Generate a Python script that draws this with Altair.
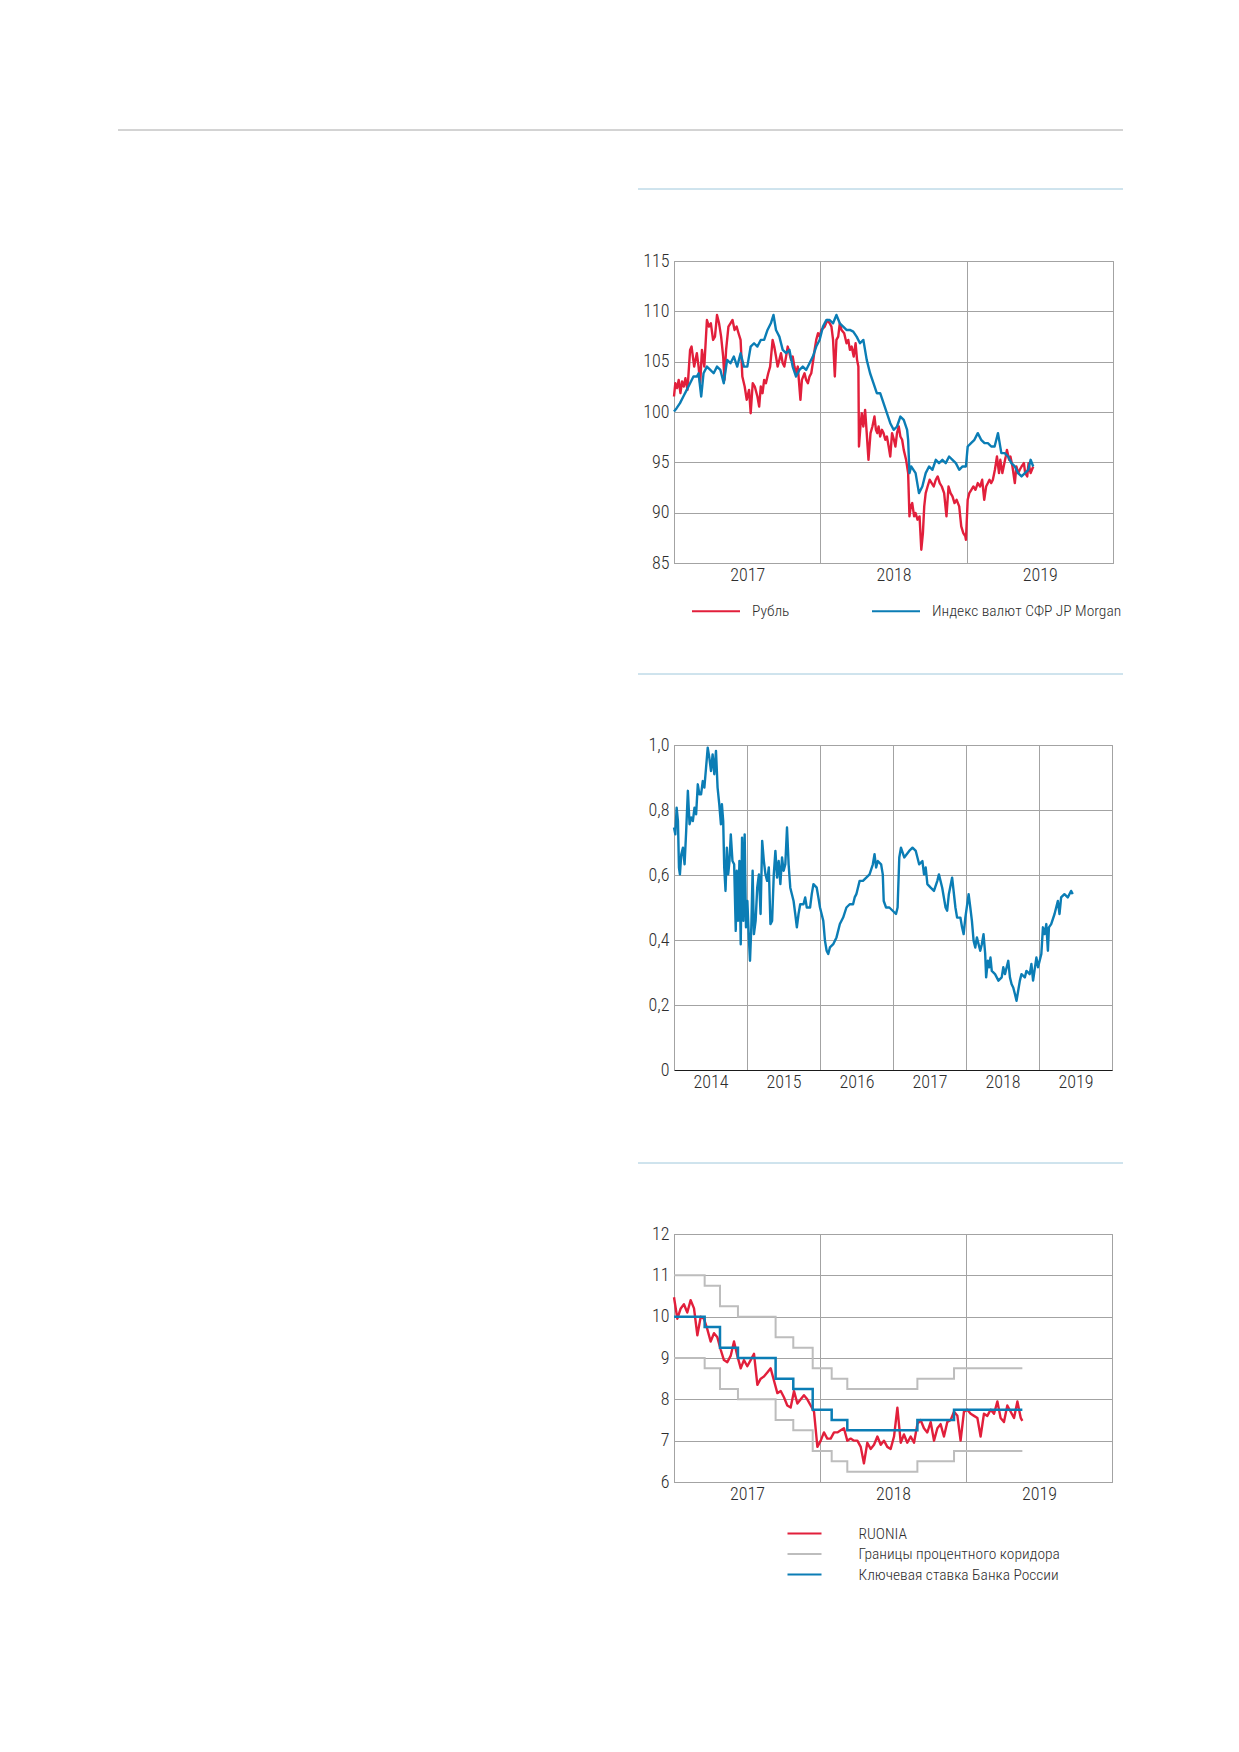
import altair as alt
import pandas as pd

FONT = "Roboto Condensed, Liberation Sans Narrow, Arial Narrow, DejaVu Sans Condensed, sans-serif"
FW = 300
TICK_FS = 18
LEG_FS = 15.5
RED = "#E21F3B"
BLUE = "#0B7DB5"
CORR = "#BDBDBD"
GRID = "#A3A3A3"
TXT = "#2E2E2E"

# ---------------- Panel 1: ruble vs JP Morgan EM currency index ----------------
P1_YEARS = [2017, 2018, 2019]
P1_YTICKS = [85, 90, 95, 100, 105, 110, 115]
P1_NAMES = ["Рубль", "Индекс валют СФР JP Morgan"]

rub_t = [2017.000, 2017.009, 2017.021, 2017.032, 2017.044, 2017.055, 2017.067, 2017.078, 2017.092, 2017.110,
         2017.120, 2017.138, 2017.156, 2017.168, 2017.179, 2017.191, 2017.207, 2017.225, 2017.239, 2017.252,
         2017.267, 2017.280, 2017.294, 2017.308, 2017.322, 2017.336, 2017.345, 2017.356, 2017.372, 2017.386,
         2017.400, 2017.414, 2017.428, 2017.441, 2017.455, 2017.467, 2017.483, 2017.497, 2017.513, 2017.524,
         2017.538, 2017.552, 2017.570, 2017.582, 2017.593, 2017.605, 2017.616, 2017.628, 2017.644, 2017.657,
         2017.674, 2017.685, 2017.697, 2017.708, 2017.720, 2017.731, 2017.743, 2017.754, 2017.766, 2017.777,
         2017.789, 2017.800, 2017.811, 2017.823, 2017.834, 2017.846, 2017.864, 2017.874, 2017.892, 2017.903,
         2017.915, 2017.926, 2017.938, 2017.952, 2017.961, 2017.972, 2017.984, 2017.995, 2018.007, 2018.030,
         2018.048, 2018.064, 2018.076, 2018.087, 2018.099, 2018.110, 2018.122, 2018.133, 2018.145, 2018.163,
         2018.179, 2018.191, 2018.202, 2018.214, 2018.228, 2018.241, 2018.251, 2018.260, 2018.264, 2018.274,
         2018.283, 2018.294, 2018.306, 2018.317, 2018.329, 2018.343, 2018.356, 2018.370, 2018.380, 2018.389,
         2018.398, 2018.409, 2018.421, 2018.432, 2018.444, 2018.455, 2018.467, 2018.478, 2018.490, 2018.503,
         2018.513, 2018.524, 2018.536, 2018.547, 2018.559, 2018.570, 2018.586, 2018.600, 2018.609, 2018.618,
         2018.628, 2018.641, 2018.651, 2018.664, 2018.678, 2018.690, 2018.701, 2018.710, 2018.720, 2018.733,
         2018.747, 2018.761, 2018.775, 2018.789, 2018.802, 2018.816, 2018.830, 2018.846, 2018.862, 2018.876,
         2018.890, 2018.903, 2018.917, 2018.931, 2018.949, 2018.963, 2018.977, 2018.991, 2018.995, 2019.007,
         2019.018, 2019.032, 2019.046, 2019.060, 2019.076, 2019.092, 2019.106, 2019.120, 2019.133, 2019.145,
         2019.156, 2019.168, 2019.179, 2019.193, 2019.207, 2019.221, 2019.230, 2019.244, 2019.253, 2019.267,
         2019.275, 2019.290, 2019.299, 2019.313, 2019.329, 2019.340, 2019.352, 2019.363, 2019.375, 2019.391,
         2019.400, 2019.414, 2019.423, 2019.437, 2019.446, 2019.455]
rub_v = [101.54, 102.86, 102.37, 103.19, 101.87, 103.03, 102.53, 103.36, 102.20, 106.17,
         106.50, 104.51, 105.84, 104.51, 102.86, 106.17, 104.51, 109.14, 108.48, 108.81,
         107.16, 107.49, 109.64, 108.81, 107.49, 105.51, 103.19, 106.17, 108.48, 108.81,
         109.14, 108.15, 108.48, 107.82, 107.16, 103.52, 102.53, 101.21, 102.20, 99.88,
         102.86, 102.53, 101.54, 100.54, 102.53, 101.87, 103.19, 102.86, 103.85, 104.51,
         107.16, 106.50, 105.51, 104.51, 105.18, 105.84, 104.84, 104.51, 105.51, 106.50,
         105.84, 105.18, 105.51, 104.51, 103.85, 104.51, 101.21, 103.19, 103.85, 103.19,
         102.86, 103.52, 103.85, 105.18, 106.17, 107.16, 107.82, 107.49, 108.15, 108.48,
         109.14, 108.81, 108.48, 107.16, 103.52, 107.16, 107.49, 108.81, 108.15, 107.82,
         106.83, 107.16, 106.17, 106.50, 105.51, 106.83, 105.18, 104.51, 96.57, 98.56,
         99.88, 98.56, 100.21, 97.90, 95.25, 97.90, 98.56, 99.55, 98.23, 97.90,
         98.56, 97.57, 98.23, 97.90, 97.24, 97.57, 96.57, 95.58, 97.90, 97.24,
         96.57, 97.90, 98.56, 97.57, 97.24, 96.24, 95.25, 93.93, 89.63, 90.62,
         90.95, 89.63, 89.96, 89.30, 89.63, 86.32, 87.97, 90.62, 91.94, 92.60,
         93.27, 92.94, 92.60, 93.27, 93.60, 92.94, 92.60, 91.94, 89.63, 92.60,
         91.94, 91.61, 90.95, 91.28, 90.62, 88.64, 87.97, 87.64, 87.31, 91.28,
         91.94, 92.27, 92.60, 92.27, 92.94, 92.60, 93.27, 91.28, 92.60, 92.94,
         93.27, 92.94, 93.27, 94.26, 95.58, 93.93, 95.25, 93.93, 94.59, 95.58,
         96.24, 95.25, 95.58, 94.59, 92.94, 94.59, 93.93, 94.26, 94.59, 94.92,
         93.93, 93.60, 94.92, 93.93, 94.26, 94.59]

jpm_t = [2017.000, 2017.018, 2017.041, 2017.064, 2017.087, 2017.110, 2017.133, 2017.156, 2017.168, 2017.186,
         2017.202, 2017.225, 2017.248, 2017.271, 2017.294, 2017.317, 2017.340, 2017.363, 2017.386, 2017.409,
         2017.432, 2017.455, 2017.478, 2017.501, 2017.524, 2017.547, 2017.570, 2017.593, 2017.616, 2017.639,
         2017.662, 2017.680, 2017.697, 2017.720, 2017.743, 2017.766, 2017.789, 2017.811, 2017.834, 2017.857,
         2017.880, 2017.903, 2017.926, 2017.949, 2017.972, 2017.995, 2018.018, 2018.041, 2018.064, 2018.087,
         2018.110, 2018.133, 2018.156, 2018.179, 2018.202, 2018.225, 2018.248, 2018.271, 2018.294, 2018.317,
         2018.340, 2018.363, 2018.386, 2018.409, 2018.432, 2018.455, 2018.478, 2018.501, 2018.524, 2018.547,
         2018.570, 2018.593, 2018.600, 2018.609, 2018.621, 2018.651, 2018.674, 2018.697, 2018.720, 2018.743,
         2018.766, 2018.789, 2018.811, 2018.834, 2018.857, 2018.880, 2018.903, 2018.926, 2018.949, 2018.972,
         2018.995, 2019.007, 2019.030, 2019.053, 2019.076, 2019.099, 2019.122, 2019.145, 2019.168, 2019.191,
         2019.214, 2019.237, 2019.260, 2019.283, 2019.306, 2019.329, 2019.352, 2019.375, 2019.398, 2019.421,
         2019.437, 2019.455]
jpm_v = [100.05, 100.38, 100.88, 101.54, 102.20, 102.86, 103.52, 103.52, 103.85, 101.54,
         103.85, 104.51, 104.18, 103.85, 104.51, 104.18, 102.86, 105.18, 104.84, 105.51,
         104.51, 105.84, 104.51, 104.51, 106.50, 106.83, 106.50, 107.16, 107.16, 108.15,
         108.81, 109.64, 108.15, 107.49, 106.17, 105.84, 106.17, 104.51, 103.52, 104.18,
         104.51, 104.18, 104.84, 105.51, 106.50, 107.16, 108.48, 109.14, 109.14, 108.81,
         109.64, 108.81, 108.48, 108.15, 108.15, 107.99, 107.49, 106.83, 107.16, 105.18,
         103.85, 102.86, 101.87, 101.87, 100.88, 99.88, 98.89, 98.23, 98.56, 99.55,
         99.22, 98.23, 97.24, 93.93, 94.59, 93.93, 91.94, 92.60, 93.93, 94.59,
         94.26, 95.25, 94.92, 95.25, 94.92, 95.58, 95.25, 94.92, 94.26, 94.59,
         94.59, 96.57, 96.91, 97.24, 97.90, 97.24, 96.91, 96.91, 96.57, 96.57,
         97.90, 95.91, 95.91, 95.58, 94.92, 94.59, 93.93, 93.60, 93.93, 94.26,
         95.25, 94.59]

# ---------------- Panel 2: single blue series, 2014-2019 ----------------
P2_YEARS = [2014, 2015, 2016, 2017, 2018, 2019]
P2_YTICKS = [0, 0.2, 0.4, 0.6, 0.8, 1.0]

idx_t = [2014.000, 2014.018, 2014.036, 2014.054, 2014.068, 2014.081, 2014.100, 2014.122, 2014.145, 2014.167,
         2014.190, 2014.213, 2014.235, 2014.258, 2014.281, 2014.303, 2014.326, 2014.348, 2014.371, 2014.394,
         2014.416, 2014.439, 2014.462, 2014.484, 2014.507, 2014.529, 2014.552, 2014.575, 2014.597, 2014.620,
         2014.643, 2014.656, 2014.674, 2014.688, 2014.706, 2014.724, 2014.742, 2014.760, 2014.778, 2014.801,
         2014.824, 2014.846, 2014.860, 2014.878, 2014.896, 2014.914, 2014.932, 2014.950, 2014.968, 2014.986,
         2015.005, 2015.023, 2015.041, 2015.059, 2015.077, 2015.095, 2015.118, 2015.140, 2015.163, 2015.186,
         2015.208, 2015.231, 2015.253, 2015.276, 2015.299, 2015.321, 2015.344, 2015.367, 2015.389, 2015.412,
         2015.434, 2015.457, 2015.480, 2015.502, 2015.525, 2015.548, 2015.570, 2015.593, 2015.615, 2015.638,
         2015.661, 2015.683, 2015.706, 2015.729, 2015.774, 2015.797, 2015.819, 2015.864, 2015.887, 2015.910,
         2015.955, 2015.978, 2016.000, 2016.045, 2016.068, 2016.091, 2016.113, 2016.136, 2016.181, 2016.226,
         2016.272, 2016.317, 2016.362, 2016.407, 2016.453, 2016.475, 2016.498, 2016.543, 2016.588, 2016.634,
         2016.679, 2016.724, 2016.747, 2016.769, 2016.792, 2016.837, 2016.860, 2016.873, 2016.905, 2016.950,
         2016.996, 2017.041, 2017.063, 2017.086, 2017.109, 2017.154, 2017.222, 2017.267, 2017.312, 2017.358,
         2017.403, 2017.425, 2017.448, 2017.471, 2017.516, 2017.561, 2017.607, 2017.629, 2017.674, 2017.720,
         2017.742, 2017.765, 2017.810, 2017.855, 2017.878, 2017.923, 2017.946, 2017.968, 2017.991, 2018.036,
         2018.059, 2018.081, 2018.104, 2018.127, 2018.149, 2018.195, 2018.217, 2018.240, 2018.263, 2018.276,
         2018.299, 2018.317, 2018.335, 2018.353, 2018.398, 2018.444, 2018.489, 2018.511, 2018.534, 2018.579,
         2018.602, 2018.625, 2018.647, 2018.670, 2018.692, 2018.715, 2018.738, 2018.760, 2018.806, 2018.828,
         2018.873, 2018.896, 2018.919, 2018.964, 2018.987, 2019.009, 2019.032, 2019.054, 2019.077, 2019.100,
         2019.122, 2019.136, 2019.167, 2019.213, 2019.258, 2019.281, 2019.303, 2019.348, 2019.394, 2019.439,
         2019.462]
idx_v = [0.746, 0.725, 0.807, 0.766, 0.623, 0.602, 0.664, 0.684, 0.633, 0.736,
         0.859, 0.756, 0.777, 0.766, 0.807, 0.787, 0.879, 0.848, 0.848, 0.889,
         0.869, 0.930, 0.992, 0.961, 0.920, 0.971, 0.910, 0.982, 0.869, 0.818,
         0.756, 0.818, 0.766, 0.623, 0.551, 0.684, 0.602, 0.643, 0.725, 0.643,
         0.633, 0.428, 0.613, 0.459, 0.643, 0.387, 0.715, 0.459, 0.725, 0.439,
         0.520, 0.418, 0.336, 0.439, 0.613, 0.418, 0.459, 0.561, 0.602, 0.480,
         0.705, 0.643, 0.602, 0.582, 0.623, 0.449, 0.459, 0.602, 0.674, 0.592,
         0.643, 0.572, 0.654, 0.613, 0.633, 0.746, 0.633, 0.561, 0.541, 0.520,
         0.480, 0.439, 0.480, 0.510, 0.510, 0.531, 0.500, 0.500, 0.541, 0.572,
         0.561, 0.531, 0.500, 0.459, 0.398, 0.367, 0.357, 0.377, 0.387, 0.408,
         0.449, 0.469, 0.500, 0.510, 0.510, 0.531, 0.541, 0.582, 0.582, 0.592,
         0.602, 0.633, 0.664, 0.623, 0.643, 0.633, 0.602, 0.520, 0.500, 0.500,
         0.490, 0.480, 0.500, 0.654, 0.684, 0.654, 0.674, 0.684, 0.674, 0.633,
         0.643, 0.602, 0.623, 0.572, 0.561, 0.551, 0.582, 0.602, 0.561, 0.500,
         0.490, 0.541, 0.592, 0.500, 0.469, 0.469, 0.439, 0.418, 0.469, 0.541,
         0.500, 0.459, 0.398, 0.377, 0.408, 0.367, 0.387, 0.418, 0.357, 0.285,
         0.336, 0.316, 0.346, 0.305, 0.295, 0.275, 0.285, 0.316, 0.295, 0.336,
         0.285, 0.264, 0.254, 0.234, 0.213, 0.244, 0.275, 0.295, 0.285, 0.305,
         0.295, 0.326, 0.275, 0.346, 0.316, 0.336, 0.357, 0.439, 0.418, 0.449,
         0.367, 0.439, 0.449, 0.480, 0.520, 0.480, 0.531, 0.541, 0.531, 0.551,
         0.541]

# ---------------- Panel 3: RUONIA, key rate and corridor ----------------
P3_YEARS = [2017, 2018, 2019]
P3_YTICKS = [6, 7, 8, 9, 10, 11, 12]
P3_NAMES = ["RUONIA", "Границы процентного коридора", "Ключевая ставка Банка России"]

ruonia_t = [2017.000, 2017.023, 2017.046, 2017.068, 2017.091, 2017.114, 2017.137, 2017.160, 2017.183, 2017.205,
            2017.228, 2017.251, 2017.274, 2017.297, 2017.320, 2017.342, 2017.365, 2017.388, 2017.411, 2017.434,
            2017.457, 2017.479, 2017.502, 2017.525, 2017.548, 2017.571, 2017.594, 2017.616, 2017.639, 2017.662,
            2017.685, 2017.708, 2017.731, 2017.753, 2017.776, 2017.799, 2017.822, 2017.845, 2017.868, 2017.890,
            2017.913, 2017.936, 2017.959, 2017.982, 2018.005, 2018.027, 2018.050, 2018.073, 2018.096, 2018.119,
            2018.142, 2018.164, 2018.187, 2018.210, 2018.233, 2018.256, 2018.279, 2018.301, 2018.324, 2018.347,
            2018.370, 2018.393, 2018.416, 2018.438, 2018.461, 2018.484, 2018.507, 2018.530, 2018.553, 2018.575,
            2018.598, 2018.621, 2018.644, 2018.667, 2018.689, 2018.712, 2018.735, 2018.758, 2018.781, 2018.804,
            2018.826, 2018.849, 2018.872, 2018.895, 2018.918, 2018.941, 2018.963, 2018.986, 2019.009, 2019.032,
            2019.055, 2019.078, 2019.100, 2019.123, 2019.146, 2019.169, 2019.192, 2019.215, 2019.237, 2019.260,
            2019.283, 2019.306, 2019.329, 2019.352, 2019.375, 2019.386]
ruonia_v = [10.47, 9.95, 10.20, 10.30, 10.10, 10.40, 10.20, 9.55, 10.00, 9.95,
            9.70, 9.40, 9.60, 9.50, 9.20, 8.95, 8.90, 9.05, 9.40, 9.05,
            8.75, 8.95, 8.80, 8.95, 9.10, 8.35, 8.50, 8.55, 8.65, 8.75,
            8.45, 8.15, 8.20, 8.05, 7.85, 7.80, 8.20, 7.90, 8.00, 8.10,
            8.00, 7.85, 7.70, 6.85, 7.00, 7.20, 7.05, 7.05, 7.20, 7.20,
            7.25, 7.30, 7.00, 7.05, 7.00, 7.00, 6.85, 6.45, 6.95, 6.80,
            6.90, 7.10, 6.90, 7.00, 6.85, 6.80, 7.10, 7.80, 6.95, 7.15,
            6.95, 7.10, 6.95, 7.40, 7.50, 7.30, 7.20, 7.45, 7.00, 7.30,
            7.40, 7.10, 7.45, 7.50, 7.70, 7.60, 7.00, 7.70, 7.75, 7.65,
            7.60, 7.55, 7.10, 7.65, 7.60, 7.75, 7.65, 7.95, 7.55, 7.45,
            7.85, 7.70, 7.55, 7.95, 7.55, 7.48]

key_t = [2017.000, 2017.210, 2017.315, 2017.438, 2017.696, 2017.817, 2017.950, 2018.080, 2018.187, 2018.667, 2018.918, 2019.386]
key_v = [10.00, 9.75, 9.25, 9.00, 8.50, 8.25, 7.75, 7.50, 7.25, 7.50, 7.75, 7.75]
corr_up = [11.00, 10.75, 10.25, 10.00, 9.50, 9.25, 8.75, 8.50, 8.25, 8.50, 8.75, 8.75]
corr_lo = [9.00, 8.75, 8.25, 8.00, 7.50, 7.25, 6.75, 6.50, 6.25, 6.50, 6.75, 6.75]


# ---------------- helpers ----------------
def x_axis(years, domain_color):
    vals = []
    for y in years:
        vals += [y, y + 0.5]
    vals.append(years[-1] + 1)
    return alt.Axis(values=vals, title=None, ticks=False, tickSize=0, labelPadding=3,
                    labelOverlap=False, labelFlush=False, domainColor=domain_color,
                    labelExpr="datum.value % 1 != 0 ? '' + floor(datum.value) : ''",
                    gridOpacity={"condition": {"test": "datum.value % 1 == 0", "value": 1}, "value": 0})


def y_axis(ticks, expr=None):
    kw = dict(values=ticks, title=None, ticks=False, tickSize=0, labelPadding=5, labelOverlap=False,
              labelFlush=False, domainColor=GRID)
    if expr:
        kw["labelExpr"] = expr
    return alt.Axis(**kw)


one = pd.DataFrame({"k": [0]})


def hrule(x1, x2, y, color, opacity=1.0):
    return alt.Chart(one).mark_rule(color=color, strokeWidth=1, opacity=opacity).encode(
        x=alt.value(x1), x2=alt.value(x2), y=alt.value(y))


LW = 2.4

# ---------------- panel 1 ----------------
W1, H1 = 439, 302
X1 = alt.X("t:Q", scale=alt.Scale(domain=[P1_YEARS[0], P1_YEARS[-1] + 1], nice=False, zero=False),
           axis=x_axis(P1_YEARS, GRID))
Y1 = alt.Y("v:Q", scale=alt.Scale(domain=[P1_YTICKS[0], P1_YTICKS[-1]], nice=False, zero=False),
           axis=y_axis(P1_YTICKS))
C1 = alt.Color("s:N", scale=alt.Scale(domain=P1_NAMES, range=[RED, BLUE]),
               legend=alt.Legend(orient="none", legendX=33, legendY=341, direction="horizontal",
                                 title=None, symbolType="M-3,0H3", symbolSize=256, symbolStrokeWidth=2,
                                 labelOffset=27, columnPadding=78, gridAlign="each", padding=0,
                                 labelFont=FONT, labelFontSize=LEG_FS, labelFontWeight=FW,
                                 labelColor=TXT, labelLimit=400))

df_rub = pd.DataFrame({"t": rub_t, "v": rub_v, "s": P1_NAMES[0]})
df_jpm = pd.DataFrame({"t": jpm_t, "v": jpm_v, "s": P1_NAMES[1]})
l_rub = alt.Chart(df_rub).mark_line(strokeWidth=LW, strokeJoin="round").encode(x=X1, y=Y1, color=C1)
l_jpm = alt.Chart(df_jpm).mark_line(strokeWidth=LW, strokeJoin="round").encode(x=X1, y=Y1, color=C1)

p1 = alt.layer(
    hrule(-556, 449, -131, "#A8A8A8"),
    hrule(-36, 449, -72, "#9FC8DC"),
    hrule(0, 10, 370, "#FFFFFF", 0.0),
    l_rub, l_jpm,
).properties(width=W1, height=H1)

# ---------------- panel 2 ----------------
W2, H2 = 438, 325
X2 = alt.X("t:Q", scale=alt.Scale(domain=[P2_YEARS[0], P2_YEARS[-1] + 1], nice=False, zero=False),
           axis=x_axis(P2_YEARS, "#1A1A1A"))
Y2 = alt.Y("v:Q", scale=alt.Scale(domain=[P2_YTICKS[0], P2_YTICKS[-1]], nice=False, zero=False),
           axis=y_axis(P2_YTICKS, "datum.value == 0 ? '0' : replace(format(datum.value, '.1f'), '.', ',')"))
df_idx = pd.DataFrame({"t": idx_t, "v": idx_v})
l_idx = alt.Chart(df_idx).mark_line(strokeWidth=LW, strokeJoin="round", color=BLUE).encode(x=X2, y=Y2)

p2 = alt.layer(
    hrule(-36, 449, -71, "#9FC8DC"),
    hrule(-556, 0, 375, "#FFFFFF", 0.0),
    l_idx,
).properties(width=W2, height=H2)

# ---------------- panel 3 ----------------
W3, H3 = 438, 248
X3 = alt.X("t:Q", scale=alt.Scale(domain=[P3_YEARS[0], P3_YEARS[-1] + 1], nice=False, zero=False),
           axis=x_axis(P3_YEARS, GRID))
Y3 = alt.Y("v:Q", scale=alt.Scale(domain=[P3_YTICKS[0], P3_YTICKS[-1]], nice=False, zero=False),
           axis=y_axis(P3_YTICKS))
C3 = alt.Color("s:N", scale=alt.Scale(domain=P3_NAMES, range=[RED, CORR, BLUE]),
               legend=alt.Legend(orient="none", legendX=121, legendY=290, direction="vertical",
                                 title=None, symbolType="M-2,0H2", symbolSize=289, symbolStrokeWidth=2,
                                 labelOffset=44.5, rowPadding=2.5, padding=0,
                                 labelFont=FONT, labelFontSize=LEG_FS, labelFontWeight=FW,
                                 labelColor=TXT, labelLimit=400))

df_corr = pd.concat([
    pd.DataFrame({"t": key_t, "v": corr_up, "s": P3_NAMES[1], "b": "up"}),
    pd.DataFrame({"t": key_t, "v": corr_lo, "s": P3_NAMES[1], "b": "lo"}),
])
df_ruonia = pd.DataFrame({"t": ruonia_t, "v": ruonia_v, "s": P3_NAMES[0]})
df_key = pd.DataFrame({"t": key_t, "v": key_v, "s": P3_NAMES[2]})

l_corr = alt.Chart(df_corr).mark_line(strokeWidth=2, interpolate="step-after").encode(
    x=X3, y=Y3, color=C3, detail="b:N")
l_ruonia = alt.Chart(df_ruonia).mark_line(strokeWidth=LW, strokeJoin="round").encode(x=X3, y=Y3, color=C3)
l_key = alt.Chart(df_key).mark_line(strokeWidth=2.5, interpolate="step-after").encode(x=X3, y=Y3, color=C3)

p3 = alt.layer(
    hrule(-36, 449, -71, "#9FC8DC"),
    hrule(-556, 0, 367, "#FFFFFF", 0.0),
    l_corr, l_ruonia, l_key,
).properties(width=W3, height=H3)

chart = alt.vconcat(p1, p2, p3, spacing=41).resolve_scale(
    x="independent", y="independent", color="independent"
).resolve_legend(color="independent").properties(
    padding={"left": 109, "top": 121, "right": 5, "bottom": 5},
    background="white",
).configure_view(stroke=GRID, strokeWidth=1).configure_axis(
    gridColor=GRID, gridWidth=1, domainWidth=1, labelFont=FONT, labelFontSize=TICK_FS,
    labelFontWeight=FW, labelColor=TXT,
)

chart.save("out.html", embed_options={"renderer": "svg", "actions": False})
